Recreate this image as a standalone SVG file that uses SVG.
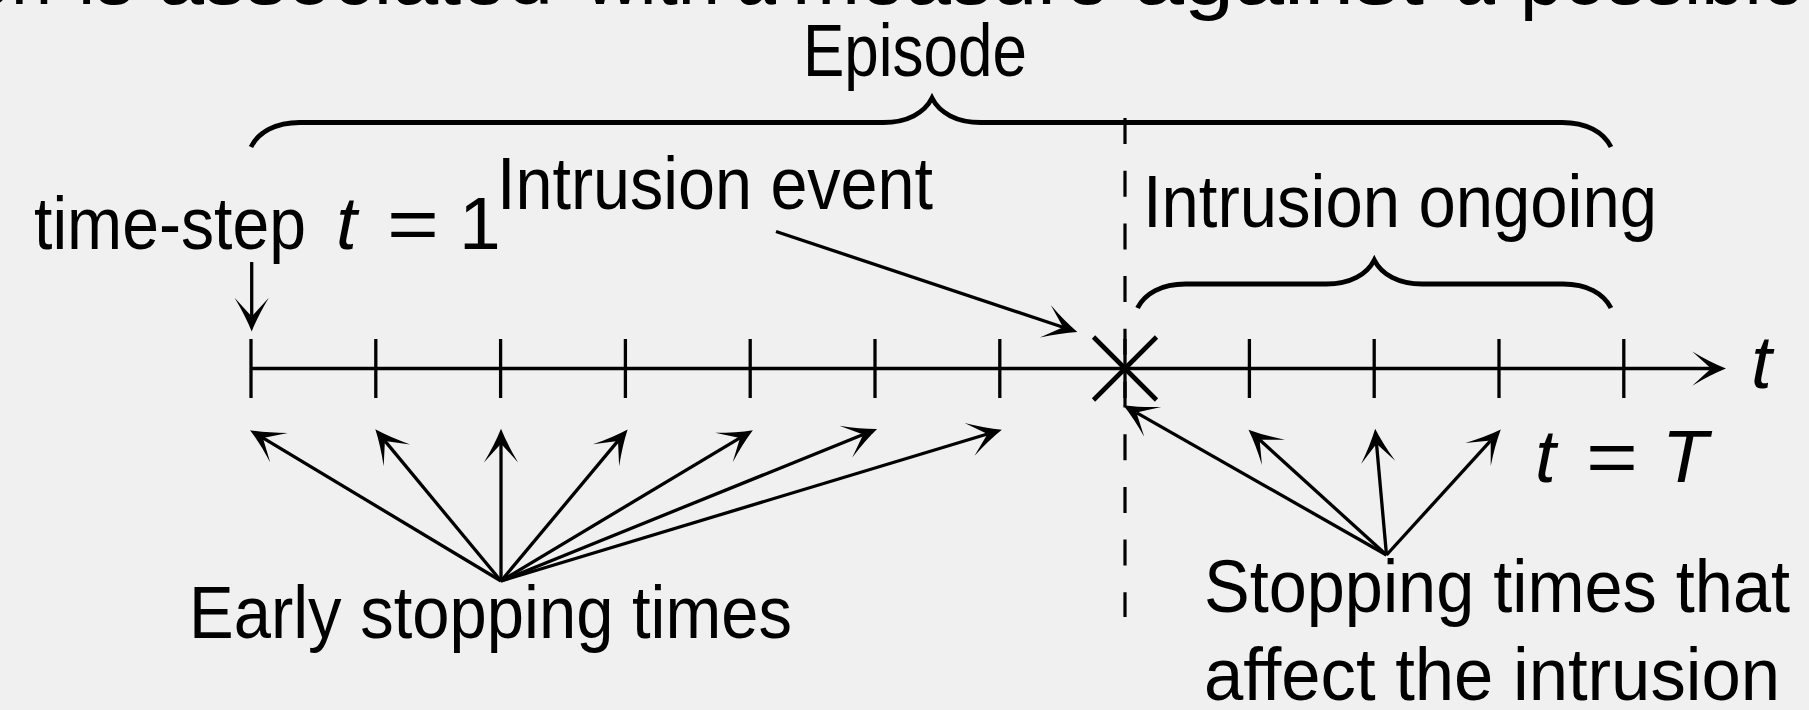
<svg xmlns="http://www.w3.org/2000/svg" width="1809" height="710" viewBox="0 0 1809 710">
<style>
.lbl{font-family:"Liberation Sans",Arial,sans-serif;font-size:75px;fill:#000}
.top{font-family:"Liberation Sans",Arial,sans-serif;font-size:80px;fill:#000}
.it{font-style:italic}
.ln{stroke:#000;stroke-width:3.3;fill:none}
.arr{stroke:#000;stroke-width:3.3;fill:none;marker-end:url(#ah)}
.brace{stroke:#000;stroke-width:4.8;fill:none}
.dash{stroke:#000;stroke-width:3.2;fill:none;stroke-dasharray:26 26.7}
.cross{stroke:#000;stroke-width:4.6;fill:none}
</style>
<defs>
<marker id="ah" markerUnits="userSpaceOnUse" markerWidth="40" markerHeight="40" viewBox="-16 -16 32 32" refX="0" refY="0" orient="auto" overflow="visible">
<path d="M12,0 Q-0.5,-5 -15,-13.7 L0,0 L-15,13.7 Q-0.5,5 12,0 Z" fill="#000"/>
</marker>
</defs>
<rect x="0" y="0" width="1809" height="710" fill="#f0f0f0"/>

<g id="clipped-caption">
<text class="top" x="-30" y="4" textLength="82" lengthAdjust="spacingAndGlyphs">on</text>
<text class="top" x="78" y="4" textLength="56" lengthAdjust="spacingAndGlyphs">is</text>
<text class="top" x="158" y="4" textLength="395" lengthAdjust="spacingAndGlyphs">associated</text>
<text class="top" x="585" y="4" textLength="135" lengthAdjust="spacingAndGlyphs">with</text>
<text class="top" x="736" y="4" textLength="40" lengthAdjust="spacingAndGlyphs">a</text>
<text class="top" x="792" y="4" textLength="318" lengthAdjust="spacingAndGlyphs">measure</text>
<text class="top" x="1134" y="4" textLength="290" lengthAdjust="spacingAndGlyphs">against</text>
<text class="top" x="1455" y="4" textLength="40" lengthAdjust="spacingAndGlyphs">a</text>
<text class="top" x="1520" y="4" textLength="285" lengthAdjust="spacingAndGlyphs">possible</text>
</g>

<g id="episode">
<path class="brace" d="M251,147 C258.4,132.3 275.5,122.5 300,122.5 L883,122.5 C907.5,122.5 924.6,112.7 932,98 C939.4,112.7 956.5,122.5 981,122.5 L1562,122.5 C1586.5,122.5 1603.6,132.3 1611,147"/>
<text class="lbl" x="803" y="76" textLength="224" lengthAdjust="spacingAndGlyphs">Episode</text>
</g>

<g id="intrusion-ongoing">
<path class="brace" d="M1137.5,308 C1144.7,293.6 1161.5,284 1185.5,284 L1326.3,284 C1350.3,284 1367.1,274.4 1374.3,260 C1381.5,274.4 1398.3,284 1422.3,284 L1563,284 C1587,284 1603.8,293.6 1611,308"/>
<text class="lbl" x="1143" y="227" textLength="514" lengthAdjust="spacingAndGlyphs">Intrusion ongoing</text>
</g>

<g id="time-step-label">
<text class="lbl" x="34" y="249" textLength="272" lengthAdjust="spacingAndGlyphs">time-step</text>
<text class="lbl it" x="336" y="249">t</text>
<text class="lbl" x="387" y="249" textLength="52" lengthAdjust="spacingAndGlyphs">=</text>
<text class="lbl" x="459" y="249">1</text>
</g>

<g id="intrusion-event-label">
<text class="lbl" x="497" y="209" textLength="436" lengthAdjust="spacingAndGlyphs">Intrusion event</text>
</g>

<g id="timeline">
<line class="ln" x1="251" y1="368.5" x2="1711" y2="368.5" marker-end="url(#ah)"/>
<g class="ln">
<line x1="251" y1="339" x2="251" y2="398"/>
<line x1="375.8" y1="339" x2="375.8" y2="398"/>
<line x1="500.6" y1="339" x2="500.6" y2="398"/>
<line x1="625.4" y1="339" x2="625.4" y2="398"/>
<line x1="750.2" y1="339" x2="750.2" y2="398"/>
<line x1="875" y1="339" x2="875" y2="398"/>
<line x1="999.8" y1="339" x2="999.8" y2="398"/>
<line x1="1125" y1="339" x2="1125" y2="398"/>
<line x1="1249.4" y1="339" x2="1249.4" y2="398"/>
<line x1="1374.2" y1="339" x2="1374.2" y2="398"/>
<line x1="1499" y1="339" x2="1499" y2="398"/>
<line x1="1623.8" y1="339" x2="1623.8" y2="398"/>
</g>
<text class="lbl it" x="1751" y="388">t</text>
</g>

<g id="intrusion-mark">
<line class="cross" x1="1093.5" y1="337" x2="1156.5" y2="400"/>
<line class="cross" x1="1156.5" y1="337" x2="1093.5" y2="400"/>
</g>

<g id="intrusion-start-line">
<line class="dash" x1="1125" y1="118" x2="1125" y2="617"/>
</g>

<g id="t-equals-T">
<text class="lbl it" x="1535" y="482">t</text>
<text class="lbl" x="1586" y="482" textLength="52" lengthAdjust="spacingAndGlyphs">=</text>
<text class="lbl it" x="1662" y="482">T</text>
</g>

<g id="early-stopping">
<text class="lbl" x="189" y="638" textLength="603" lengthAdjust="spacingAndGlyphs">Early stopping times</text>
</g>

<g id="late-stopping">
<text class="lbl" x="1204" y="612" textLength="586" lengthAdjust="spacingAndGlyphs">Stopping times that</text>
<text class="lbl" x="1204" y="700" textLength="576" lengthAdjust="spacingAndGlyphs">affect the intrusion</text>
</g>

<g id="connectors">
<line class="arr" x1="251.7" y1="262" x2="251.7" y2="316.5"/>
<line class="arr" x1="776" y1="231.5" x2="1063.1" y2="327.2"/>
<line class="arr" x1="501" y1="581" x2="262.9" y2="437.9"/>
<line class="arr" x1="501" y1="581" x2="384.9" y2="440.9"/>
<line class="arr" x1="501" y1="581" x2="501" y2="443.7"/>
<line class="arr" x1="501" y1="581" x2="618" y2="440.9"/>
<line class="arr" x1="501" y1="581" x2="740" y2="437.9"/>
<line class="arr" x1="501" y1="581" x2="863.2" y2="434.5"/>
<line class="arr" x1="501" y1="581" x2="987.5" y2="434"/>
<line class="arr" x1="1386.5" y1="555" x2="1136.4" y2="412.6"/>
<line class="arr" x1="1386.5" y1="555" x2="1259.6" y2="439.8"/>
<line class="arr" x1="1386.5" y1="555" x2="1376.5" y2="443.7"/>
<line class="arr" x1="1386.5" y1="555" x2="1490.7" y2="440.6"/>
</g>
</svg>
